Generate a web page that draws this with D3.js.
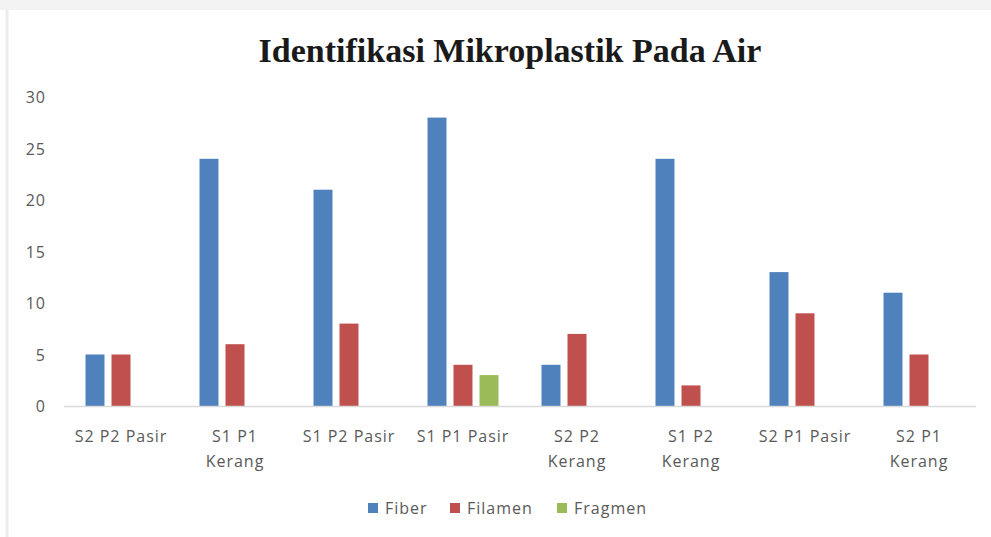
<!DOCTYPE html>
<html>
<head>
<meta charset="utf-8">
<script src="https://cdn.jsdelivr.net/npm/d3@7"></script>
<style>
  body { margin: 0; background: #fff; }
  svg { display: block; }
</style>
</head>
<body>
<script>
// data
var categories = ["S2 P2 Pasir", "S1 P1 Kerang", "S1 P2 Pasir", "S1 P1 Pasir",
    "S2 P2 Kerang", "S1 P2 Kerang", "S2 P1 Pasir", "S2 P1 Kerang"];
var fiber   = [5, 24, 21, 28, 4, 24, 13, 11];
var filamen = [5, 6, 8, 4, 7, 2, 9, 5];
var fragmen = [0, 0, 0, 3, 0, 0, 0, 0];
var seriesNames = ["Fiber", "Filamen", "Fragmen"];
var yTicks = [0, 5, 10, 15, 20, 25, 30];

var colors = ["#4f81bd", "#c0504d", "#9bbb59"];
var seriesValues = [fiber, filamen, fragmen];

let width = 991;
let height = 537;
let labelFont = "'Open Sans', 'DejaVu Sans', sans-serif";

let svg = d3.select("body").append("svg")
    .attr("width", width)
    .attr("height", height);

// faint frame of the scanned chart
svg.append("rect").attr("x", 0).attr("y", 0).attr("width", width).attr("height", 10)
    .attr("fill", "#f3f3f3");
svg.append("line").attr("x1", 7).attr("x2", 7).attr("y1", 10).attr("y2", height)
    .attr("stroke", "#ececec").attr("stroke-width", 3);

// title
svg.append("text")
    .attr("x", 510)
    .attr("y", 62)
    .attr("text-anchor", "middle")
    .style("font-family", "'Liberation Serif', 'Times New Roman', serif")
    .style("font-weight", "bold")
    .style("font-size", "34px")
    .style("fill", "#1a1a1a")
    .text("Identifikasi Mikroplastik Pada Air");

let x0 = d3.scaleBand()
    .domain(categories)
    .range([64, 976]);

let x1 = d3.scaleBand()
    .domain(seriesNames)
    .range([x0.bandwidth() / 2 - 35.5, x0.bandwidth() / 2 + 35.5])
    .paddingInner(0.27);

let y = d3.scaleLinear()
    .domain([0, 30])
    .range([406, 97]);

// y tick labels
svg.selectAll(".ylabel")
    .data(yTicks)
    .join("text")
    .attr("class", "ylabel")
    .attr("x", 46)
    .attr("y", d => y(d) + 6)
    .attr("text-anchor", "end")
    .style("font-family", labelFont)
    .style("font-size", "16px")
    .style("letter-spacing", "1px")
    .style("fill", "#595959")
    .text(d => d);

// bars
let groups = svg.selectAll(".group")
    .data(categories)
    .join("g")
    .attr("class", "group")
    .attr("transform", d => "translate(" + x0(d) + ",0)");

groups.selectAll("rect")
    .data((c, i) => seriesNames.map((s, j) => ({ name: s, value: seriesValues[j][i], idx: j })))
    .join("rect")
    .attr("x", d => x1(d.name))
    .attr("width", x1.bandwidth())
    .attr("y", d => y(d.value))
    .attr("height", d => y(0) - y(d.value))
    .attr("fill", d => colors[d.idx]);

// baseline
svg.append("line")
    .attr("x1", 64).attr("x2", 976)
    .attr("y1", y(0) + 0.5).attr("y2", y(0) + 0.5)
    .attr("stroke", "#d9d9d9")
    .attr("stroke-width", 1.5);

// category labels (wrapped like the original)
let labelLines = {
    "S2 P2 Pasir": ["S2 P2 Pasir"],
    "S1 P1 Kerang": ["S1 P1", "Kerang"],
    "S1 P2 Pasir": ["S1 P2 Pasir"],
    "S1 P1 Pasir": ["S1 P1 Pasir"],
    "S2 P2 Kerang": ["S2 P2", "Kerang"],
    "S1 P2 Kerang": ["S1 P2", "Kerang"],
    "S2 P1 Pasir": ["S2 P1 Pasir"],
    "S2 P1 Kerang": ["S2 P1", "Kerang"]
};

svg.selectAll(".xlabel")
    .data(categories)
    .join("text")
    .attr("class", "xlabel")
    .attr("x", d => x0(d) + x0.bandwidth() / 2)
    .attr("y", 442)
    .attr("text-anchor", "middle")
    .style("font-family", labelFont)
    .style("font-size", "16px")
    .style("letter-spacing", "1px")
    .style("fill", "#595959")
    .each(function(d) {
        let t = d3.select(this);
        labelLines[d].forEach((line, i) => {
            t.append("tspan")
                .attr("x", x0(d) + x0.bandwidth() / 2)
                .attr("dy", i === 0 ? 0 : 25)
                .text(line);
        });
    });

// legend
let legendX = [368, 450, 557];
let legend = svg.selectAll(".legend")
    .data(seriesNames)
    .join("g")
    .attr("class", "legend")
    .attr("transform", (d, i) => "translate(" + legendX[i] + ",503)");

legend.append("rect")
    .attr("width", 10).attr("height", 10)
    .attr("fill", (d, i) => colors[i]);

legend.append("text")
    .attr("x", 17)
    .attr("y", 11)
    .style("font-family", labelFont)
    .style("font-size", "16px")
    .style("letter-spacing", "1px")
    .style("fill", "#595959")
    .text(d => d);
</script>
</body>
</html>
